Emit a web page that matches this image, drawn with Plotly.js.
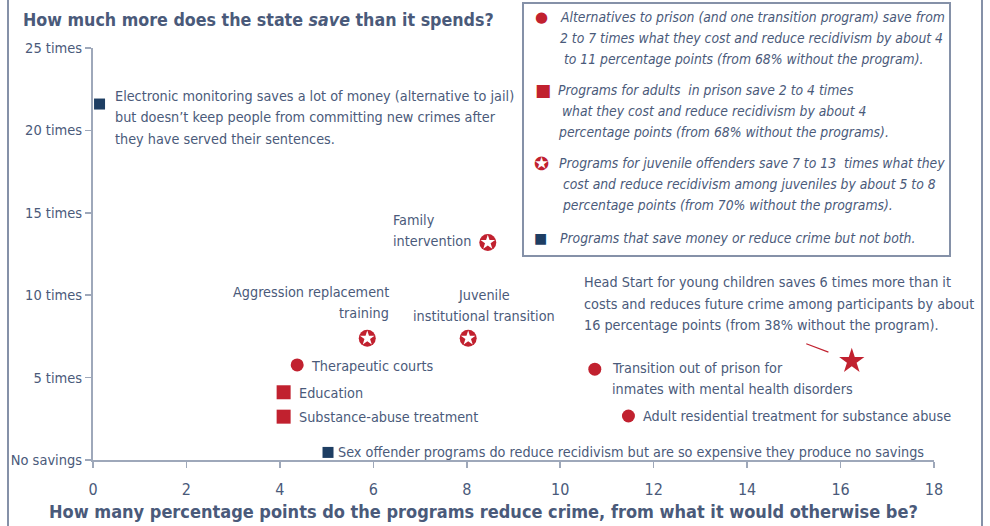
<!DOCTYPE html>
<html>
<head>
<meta charset="utf-8">
<script src="https://cdn.plot.ly/plotly-3.0.1.min.js"></script>
<style>html,body{margin:0;padding:0;background:#fff;}#chart{width:990px;height:526px;}</style>
</head>
<body>
<div id="chart"></div>
<script>
// ---------- DATA ----------
const alternativesNames = ["Therapeutic courts", "Transition out of prison for<br>inmates with mental health disorders", "Adult residential treatment for substance abuse"];
const alternativesX = [4.37, 10.74, 11.46];
const alternativesY = [5.77, 5.51, 2.67];

const adultNames = ["Education", "Substance-abuse treatment"];
const adultX = [4.08, 4.08];
const adultY = [4.11, 2.63];

const juvenileNames = ["Family<br>intervention", "Aggression replacement<br>training", "Juvenile<br>institutional transition"];
const juvenileX = [8.45, 5.87, 8.03];
const juvenileY = [13.2, 7.39, 7.39];

const mixedNames = ["Electronic monitoring saves a lot of money (alternative to jail)<br>but doesn\u2019t keep people from committing new crimes after<br>they have served their sentences.", "Sex offender programs do reduce recidivism but are so expensive they produce no savings"];
const mixedX = [0.14, 5.03];
const mixedY = [21.6, 0.46];

const headStartNames = ["Head Start for young children saves 6 times more than it<br>costs and reduces future crime among participants by about<br>16 percentage points (from 38% without the program)."];
const headStartX = [16.24];
const headStartY = [6.0];

const xTickVals = [0, 2, 4, 6, 8, 10, 12, 14, 16, 18];
const xTickText = ["0", "2", "4", "6", "8", "10", "12", "14", "16", "18"];
const yTickVals = [0, 5, 10, 15, 20, 25];
const yTickText = ["No savings", "5 times", "10 times", "15 times", "20 times", "25 times"];

const legendTexts = [
  "Alternatives to prison (and one transition program) save from<br>2 to 7 times what they cost and reduce recidivism by about 4<br>\u00a0to 11 percentage points (from 68% without the program).",
  "Programs for adults \u00a0in prison save 2 to 4 times<br>\u00a0what they cost and reduce recidivism by about 4<br>percentage points (from 68% without the programs).",
  "Programs for juvenile offenders save 7 to 13 \u00a0times what they<br>\u00a0cost and reduce recidivism among juveniles by about 5 to 8<br>\u00a0percentage points (from 70% without the programs).",
  "Programs that save money or reduce crime but not both."
];

const titleText = "<b>How much more does the state <i>save</i> than it spends?</b>";
const xTitleText = "<b>How many percentage points do the programs reduce crime, from what it would otherwise be?</b>";

// ---------- STYLE / LAYOUT ----------
const FONT = "'DejaVu Sans Condensed', 'Liberation Sans Narrow', sans-serif";
const TEXT = "#4a5a7a";
const RED = "#c1212f";
const NAVY = "#1e3e63";
const AXIS = "#9ea8ba";
const FRAME = "#8591a8";
const LABEL_SIZE = 14.3;
const LEGEND_SIZE = 13.8;
const LINE_GAP = 21.5;

const W = 990, H = 526;
const M = {l: 93, r: 56, t: 48, b: 66};
const PW = W - M.l - M.r, PH = H - M.t - M.b;
const px2x = p => (p - M.l) / PW;
const px2y = p => (H - M.b - p) / PH;

// label placements: pixel offset of the first line from the point, anchor
const alternativesLabelPos = [
  {anchor: "left", dx: 11.5, dy: 1},
  {anchor: "left", dx: 15, dy: -1.3},
  {anchor: "left", dx: 13, dy: 0}
];
const adultLabelPos = [
  {anchor: "left", dx: 13, dy: 0.7},
  {anchor: "left", dx: 13, dy: 0.3}
];
const juvenileLabelPos = [
  {anchor: "left", dx: -97, dy: -22.7},
  {anchor: "right", dx: 24, dy: -46.3},
  {anchor: "center", dx: 15.5, dy: -43.3}
];
const mixedLabelPos = [
  {anchor: "left", dx: 13, dy: -8.5},
  {anchor: "left", dx: 7.5, dy: -0.5}
];
const headStartLabelPos = [
  {anchor: "left", dx: -270, dy: -79}
];

const traces = [
  {x: alternativesX, y: alternativesY, text: alternativesNames, type: "scatter", mode: "markers", cliponaxis: false,
   marker: {symbol: "circle", size: 13, color: RED, line: {width: 0}}, hoverinfo: "text"},
  {x: adultX, y: adultY, text: adultNames, type: "scatter", mode: "markers", cliponaxis: false,
   marker: {symbol: "square", size: 14, color: RED, line: {width: 0}}, hoverinfo: "text"},
  {x: juvenileX, y: juvenileY, text: juvenileNames, type: "scatter", mode: "markers", cliponaxis: false,
   marker: {symbol: "circle", size: 17, color: RED, line: {width: 0}}, hoverinfo: "text"},
  {x: juvenileX, y: juvenileY, type: "scatter", mode: "markers", cliponaxis: false, hoverinfo: "skip",
   marker: {symbol: "star", size: 11, color: "#ffffff", line: {width: 0}}},
  {x: mixedX, y: mixedY, text: mixedNames, type: "scatter", mode: "markers", cliponaxis: false,
   marker: {symbol: "square", size: 11, color: NAVY, line: {width: 0}}, hoverinfo: "text"},
  {x: headStartX, y: headStartY, text: headStartNames, type: "scatter", mode: "markers", cliponaxis: false,
   marker: {symbol: "star", size: 19, color: RED, line: {width: 0}}, hoverinfo: "text"}
];

const annotations = [];
function addLabels(xs, ys, names, pos) {
  xs.forEach((x, i) => {
    names[i].split("<br>").forEach((line, k) => {
      annotations.push({x: x, y: ys[i], xref: "x", yref: "y", text: line, showarrow: false,
        xanchor: pos[i].anchor, yanchor: "middle", align: pos[i].anchor,
        xshift: pos[i].dx, yshift: -(pos[i].dy + k * LINE_GAP),
        font: {family: FONT, size: LABEL_SIZE, color: TEXT}});
    });
  });
}
addLabels(alternativesX, alternativesY, alternativesNames, alternativesLabelPos);
addLabels(adultX, adultY, adultNames, adultLabelPos);
addLabels(juvenileX, juvenileY, juvenileNames, juvenileLabelPos);
addLabels(mixedX, mixedY, mixedNames, mixedLabelPos);
addLabels(headStartX, headStartY, headStartNames, headStartLabelPos);

// Head Start leader line
annotations.push({x: headStartX[0], y: headStartY[0], xref: "x", yref: "y", text: "", showarrow: true,
  arrowhead: 0, arrowwidth: 1.2, arrowcolor: RED, ax: -47, ay: -18, standoff: 25});

// title & x-axis title
annotations.push({xref: "paper", yref: "paper", x: px2x(21), y: px2y(20), xanchor: "left", yanchor: "middle",
  text: titleText, showarrow: false, font: {family: FONT, size: 17.7, color: TEXT}});
annotations.push({xref: "paper", yref: "paper", x: px2x(483), y: px2y(511), xanchor: "center", yanchor: "middle",
  text: xTitleText, showarrow: false, font: {family: FONT, size: 18, color: TEXT}});

// custom legend (symbols + texts)
const legendSymbols = [
  {t: "\u25CF", c: RED, s: 15, x: 541, y: 17},
  {t: "\u25A0", c: RED, s: 17, x: 543, y: 90},
  {t: "\u272A", c: RED, s: 18, x: 541, y: 163},
  {t: "\u25A0", c: NAVY, s: 14, x: 540, y: 238}
];
const legendTextY = [17, 90, 163, 238];
const legendTextX = [558, 556, 557, 558];
legendSymbols.forEach((sy, i) => {
  annotations.push({xref: "paper", yref: "paper", x: px2x(sy.x), y: px2y(sy.y), xanchor: "center", yanchor: "middle",
    text: sy.t, showarrow: false, font: {family: "DejaVu Sans", size: sy.s, color: sy.c}});
  legendTexts[i].split("<br>").forEach((line, k) => {
    annotations.push({xref: "paper", yref: "paper", x: px2x(legendTextX[i]), y: px2y(legendTextY[i] + k * 21),
      xanchor: "left", yanchor: "middle", align: "left", text: "<i>" + line + "</i>", showarrow: false,
      font: {family: FONT, size: LEGEND_SIZE, color: TEXT}});
  });
});

const shapes = [
  {type: "rect", xref: "paper", yref: "paper", x0: px2x(523), x1: px2x(950), y0: px2y(3), y1: px2y(256),
   line: {color: FRAME, width: 2}, fillcolor: "rgba(0,0,0,0)", layer: "above"},
  {type: "line", xref: "paper", yref: "paper", x0: px2x(8), x1: px2x(8), y0: px2y(0), y1: px2y(H),
   line: {color: FRAME, width: 2}},
  {type: "line", xref: "paper", yref: "paper", x0: px2x(982), x1: px2x(982), y0: px2y(0), y1: px2y(H),
   line: {color: FRAME, width: 2}}
];

const layout = {
  width: W, height: H,
  margin: M,
  paper_bgcolor: "#ffffff", plot_bgcolor: "#ffffff",
  showlegend: false,
  font: {family: FONT, color: TEXT, size: LABEL_SIZE},
  xaxis: {range: [0, 18], tickvals: xTickVals, ticktext: xTickText, showgrid: false, zeroline: false,
    showline: true, linecolor: AXIS, linewidth: 2, ticks: "outside", ticklen: 6, tickwidth: 1.5, tickcolor: AXIS,
    tickfont: {family: FONT, size: 16, color: TEXT}, ticklabelstandoff: 8, fixedrange: true},
  yaxis: {range: [0, 25], tickvals: yTickVals, ticktext: yTickText, showgrid: false, zeroline: false,
    showline: true, linecolor: AXIS, linewidth: 2, ticks: "outside", ticklen: 6, tickwidth: 1.5, tickcolor: AXIS,
    tickfont: {family: FONT, size: 14.5, color: TEXT}, fixedrange: true},
  annotations: annotations,
  shapes: shapes
};

Plotly.newPlot("chart", traces, layout, {displayModeBar: false, staticPlot: true});
</script>
</body>
</html>
